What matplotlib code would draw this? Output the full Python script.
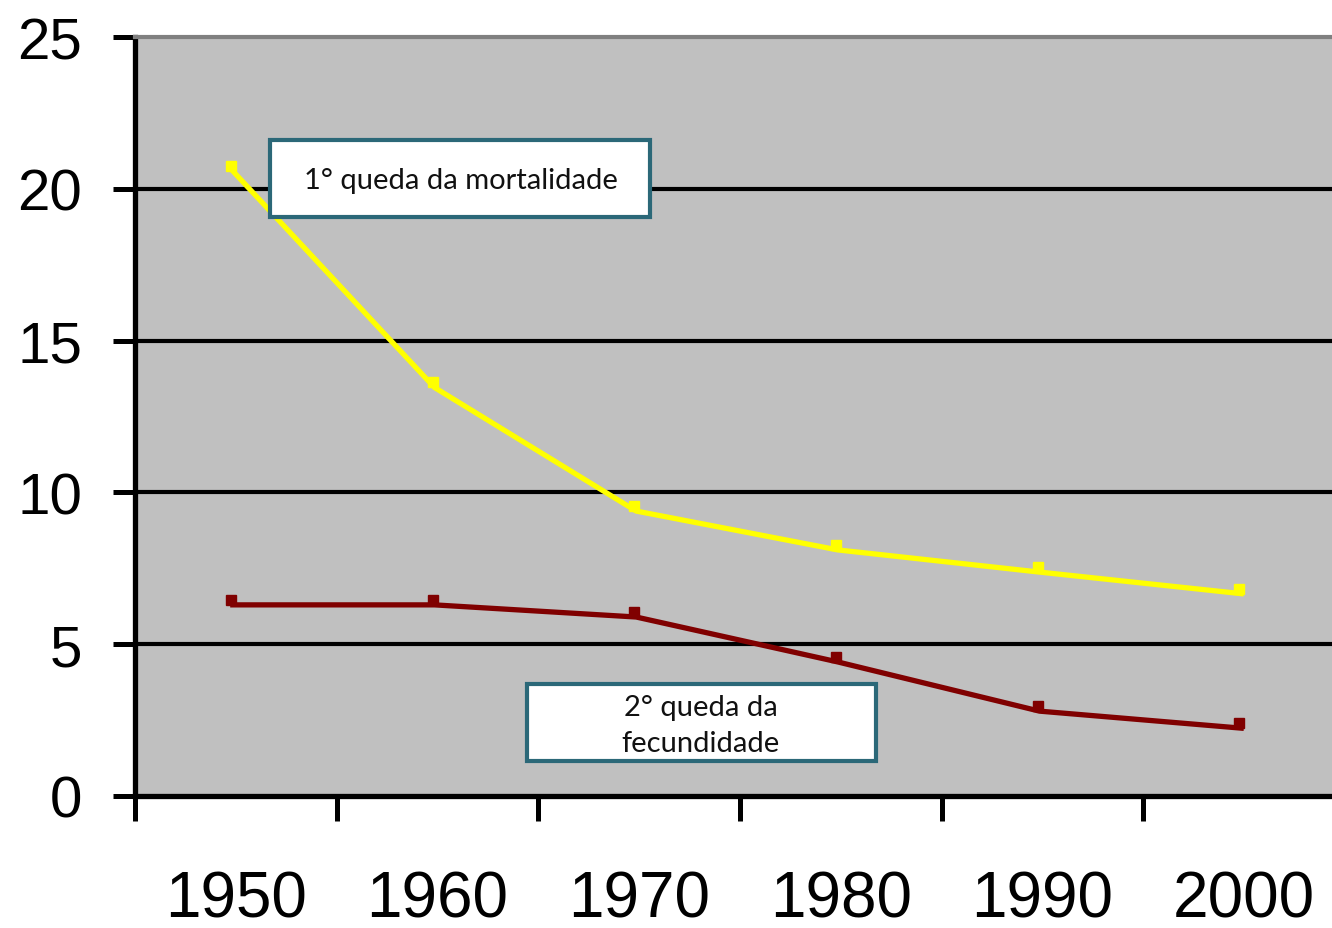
import matplotlib
matplotlib.use('Agg')
import matplotlib.pyplot as plt
from matplotlib.patches import Rectangle
from matplotlib.transforms import offset_copy

years = ['1950', '1960', '1970', '1980', '1990', '2000']
mortalidade = [20.75, 13.62, 9.55, 8.27, 7.54, 6.83]
fecundidade = [6.46, 6.46, 6.06, 4.58, 2.96, 2.40]
label_mort = '1° queda da mortalidade'
label_fec = '2° queda da\nfecundidade'

fig = plt.figure(figsize=(13.32, 9.29), dpi=100)
ax = fig.add_axes([135/1332, 132/929, 1210/1332, 759/929])
ax.set_facecolor('#C0C0C0')

x = list(range(len(years)))
# markers sit a little left of the category centre, line is drawn slightly below them
mk = offset_copy(ax.transData, fig=fig, x=-5, y=0, units='dots')
ln = offset_copy(ax.transData, fig=fig, x=-3, y=-5, units='dots')
ax.plot(x, mortalidade, color='#FFFF00', lw=3.8, transform=ln, zorder=3)
ax.plot(x, mortalidade, 's', color='#FFFF00', ms=7, transform=mk, zorder=4)
ax.plot(x, fecundidade, color='#800000', lw=3.8, transform=ln, zorder=3)
ax.plot(x, fecundidade, 's', color='#800000', ms=7, transform=mk, zorder=4)

ax.set_xlim(-0.5, 5.5)
ax.set_ylim(0, 25)
ax.set_yticks([0, 5, 10, 15, 20, 25])
for v in [5, 10, 15, 20]:
    ax.axhline(v, color='black', lw=3, zorder=1)

ax.set_xticks([i - 0.5 for i in x])
ax.set_xticklabels([])
ax.set_xticks(x, minor=True)
ax.set_xticklabels(years, minor=True, fontsize=46, family='Liberation Sans')
ax.tick_params(axis='x', which='major', length=18, width=3.6, direction='out')
ax.tick_params(axis='x', which='minor', length=0, pad=53)
ax.tick_params(axis='y', length=16, width=3.6, direction='out', pad=22, labelsize=42)
for t in ax.get_yticklabels():
    t.set_family('Liberation Sans')

for s in ['left', 'bottom']:
    ax.spines[s].set_linewidth(3.8)
    ax.spines[s].set_color('black')
ax.spines['top'].set_color('#808080')
ax.spines['top'].set_linewidth(3)
ax.spines['right'].set_visible(False)

edge = '#2B6878'
fig.patches.append(Rectangle((270/1332, 711/929), 380/1332, 77/929, transform=fig.transFigure,
                             facecolor='white', edgecolor=edge, lw=3, zorder=5))
fig.text(461/1332, 748/929, label_mort, ha='center', va='center', fontsize=21,
         family='Lato', color='#111111', zorder=6)
fig.patches.append(Rectangle((527/1332, 167/929), 349/1332, 77/929, transform=fig.transFigure,
                             facecolor='white', edgecolor=edge, lw=3, zorder=5))
fig.text(701/1332, 203/929, label_fec, ha='center', va='center', fontsize=21,
         family='Lato', color='#111111', linespacing=1.45, zorder=6)

fig.savefig('out.png', dpi=100)
